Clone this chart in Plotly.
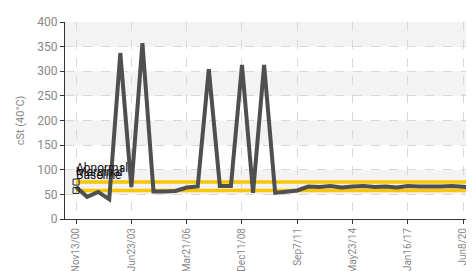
import plotly.graph_objects as go

# sample index (equally spaced samples on a category-like axis)
sample_idx = list(range(0, 38))
viscosity = [65, 45, 55, 40, 337, 65, 357, 56, 56, 57,
             64, 66, 304, 67, 67, 313, 53, 313, 53, 55,
             58, 66, 65, 67, 64, 66, 67, 65, 66, 64,
             67, 66, 65, 66, 67, 65, 64, 66]

abnormal_level = 75
lower_level = 58

tick_idx = [0, 5, 10, 15, 20, 25, 30, 35]
tick_labels = ["Nov13/00", "Jun23/03", "Mar21/06", "Dec11/08",
               "Sep7/11", "May23/14", "Jan16/17", "Jun8/20"]

band_ranges = [(50, 100), (150, 200), (250, 300), (350, 400)]
limit_labels = ["Abnormal", "Marginal", "Baseline"]
limit_label_y = [104, 95, 89]

FONT = "Roboto, Liberation Sans Narrow, sans-serif"

fig = go.Figure()

x_end = sample_idx[-1]
fig.add_trace(go.Scatter(x=[0, x_end], y=[abnormal_level, abnormal_level], mode="lines",
                         line=dict(color="#f7c600", width=3.5), hoverinfo="skip"))
fig.add_trace(go.Scatter(x=[0, x_end], y=[lower_level, lower_level], mode="lines",
                         line=dict(color="#f7c600", width=3.5), hoverinfo="skip"))
fig.add_trace(go.Scatter(x=sample_idx, y=viscosity, mode="lines",
                         line=dict(color="#4f4f4f", width=4)))
fig.add_trace(go.Scatter(x=[0, 0], y=[abnormal_level, lower_level], mode="markers",
                         marker=dict(symbol="square-open", size=6, color="#222",
                                     line=dict(width=1, color="#222"))))

for lo, hi in band_ranges:
    fig.add_shape(type="rect", xref="paper", yref="y", x0=0, x1=1, y0=lo, y1=hi,
                  fillcolor="#f3f3f3", line=dict(width=0), layer="below")

for txt, yy in zip(limit_labels, limit_label_y):
    fig.add_annotation(x=0, y=yy, text=txt, showarrow=False, xanchor="left",
                       yanchor="middle", xshift=-2,
                       font=dict(family=FONT, size=12, color="#111"))

fig.update_layout(
    width=474, height=271,
    margin=dict(l=57, r=0, t=14, b=60),
    paper_bgcolor="white", plot_bgcolor="white",
    showlegend=False,
    font=dict(family=FONT, color="#888"),
)
fig.update_xaxes(
    range=[-1.0, 36.7], tickmode="array", tickvals=tick_idx, ticktext=tick_labels,
    tickangle=-90, tickfont=dict(size=10, color="#888", family=FONT),
    showline=True, linecolor="#333", linewidth=1,
    ticks="outside", ticklen=4, tickcolor="#333",
    showgrid=True, gridcolor="#d8d8d8", griddash="dash", gridwidth=1,
    zeroline=False,
)
fig.update_yaxes(
    range=[0, 400], tickvals=[0, 50, 100, 150, 200, 250, 300, 350, 400],
    tickfont=dict(size=12, color="#888", family=FONT),
    showline=True, linecolor="#333", linewidth=1,
    ticks="outside", ticklen=4, tickcolor="#333",
    showgrid=True, gridcolor="#d8d8d8", griddash="dash", gridwidth=1,
    zeroline=False,
    title=dict(text="cSt (40°C)", font=dict(size=11, color="#888", family=FONT), standoff=10),
)

fig.write_html("out.html")
